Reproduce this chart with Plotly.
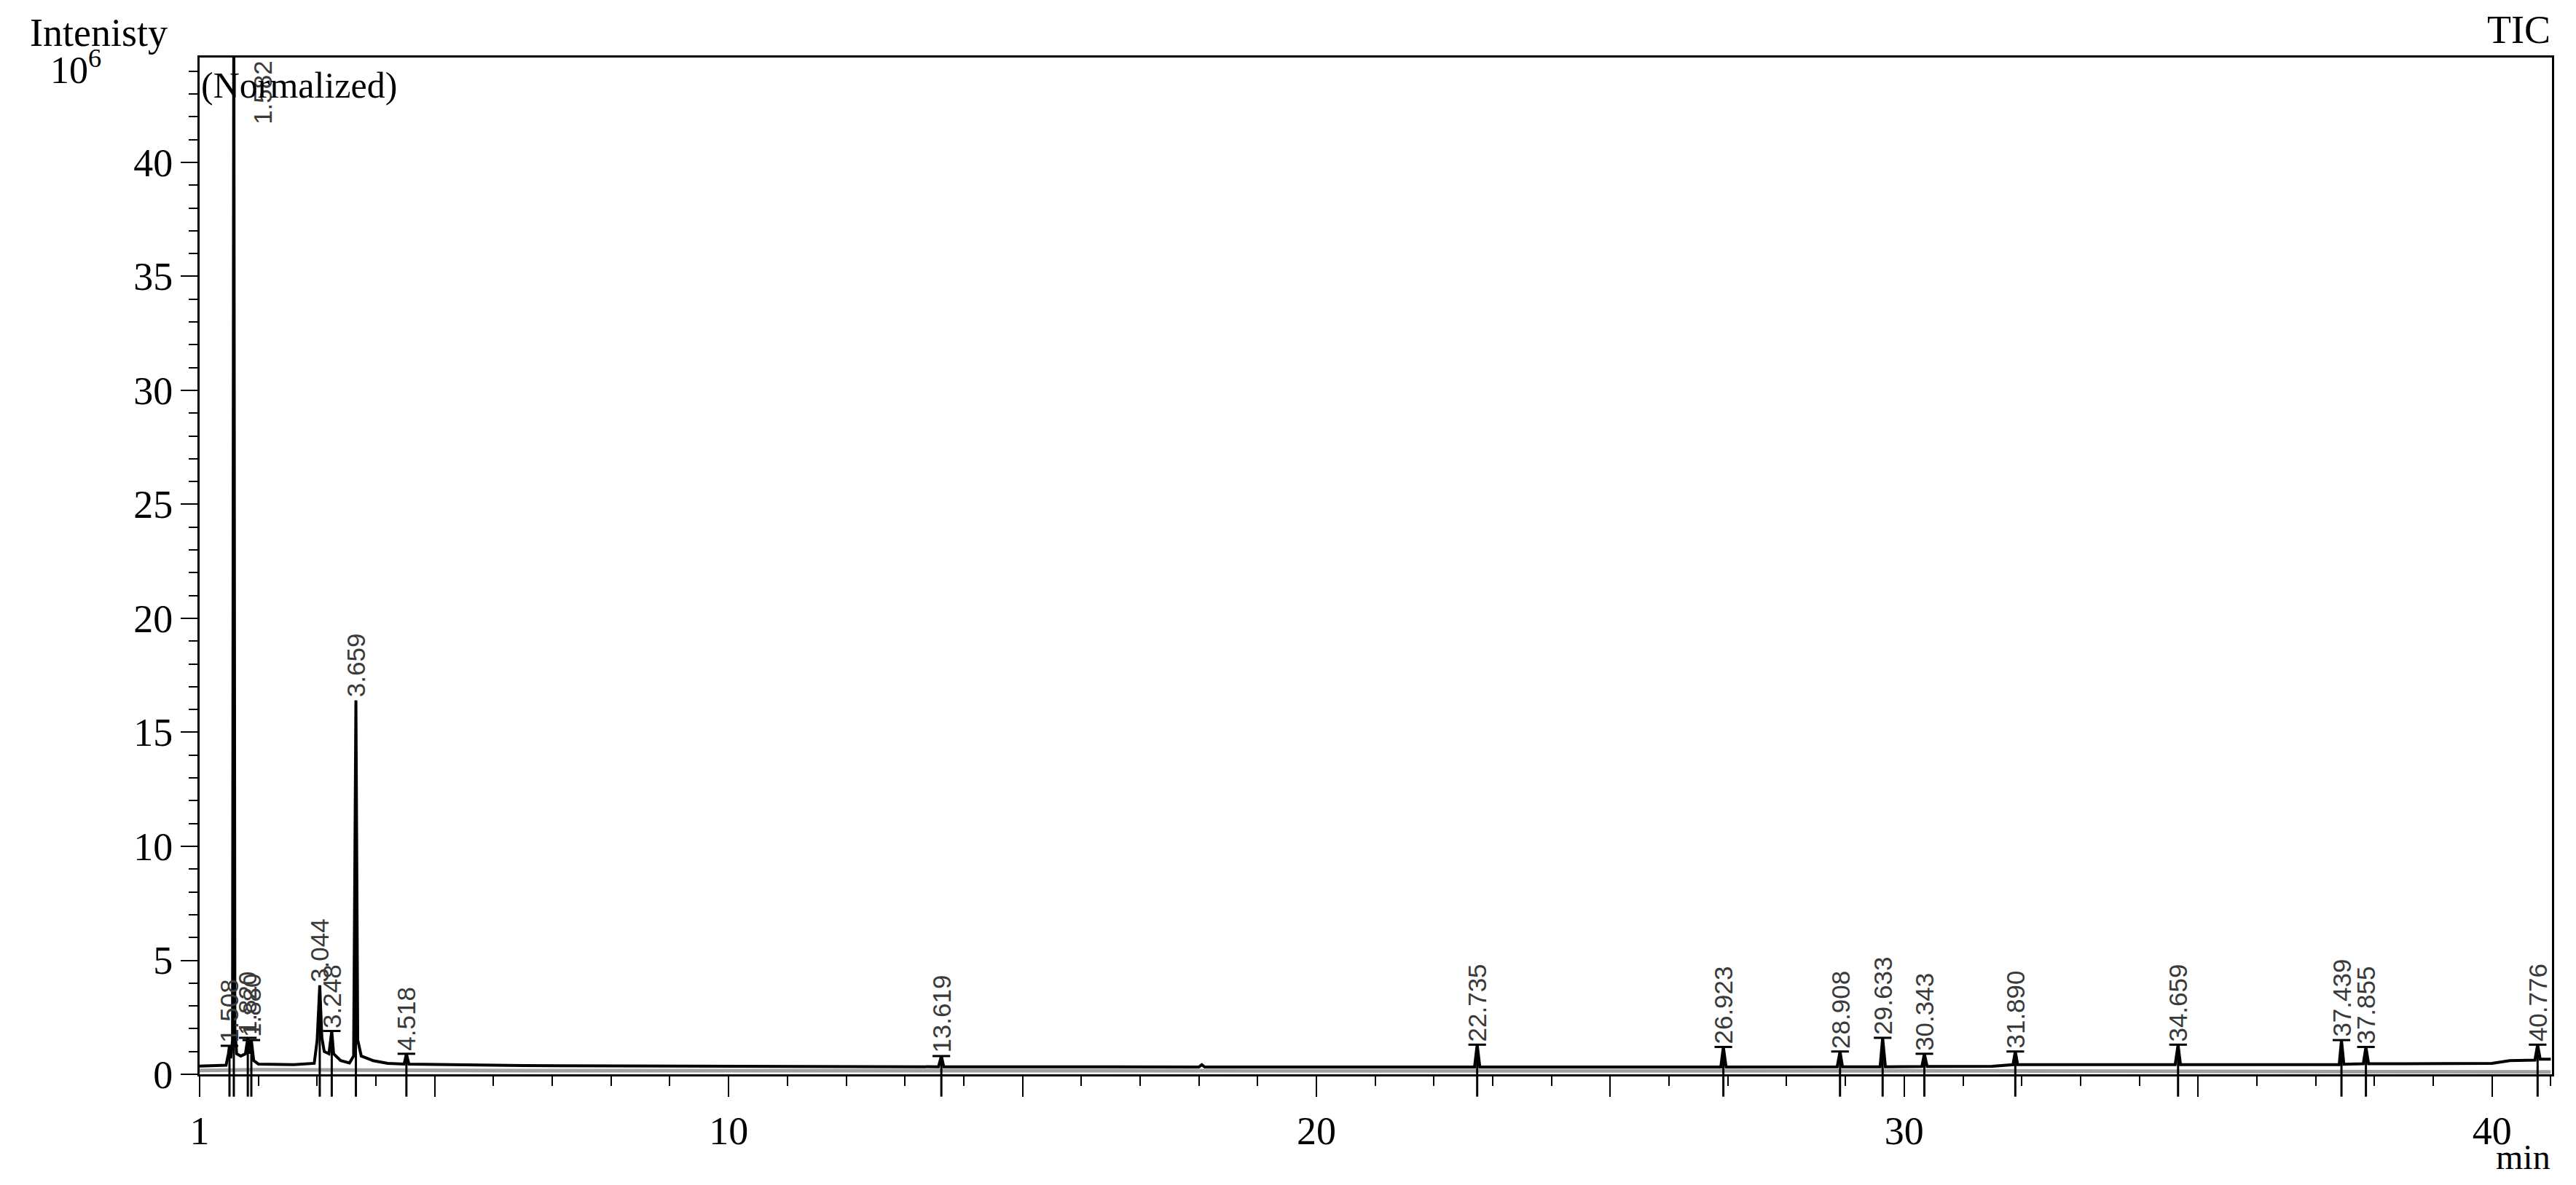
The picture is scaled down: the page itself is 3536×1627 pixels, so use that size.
import plotly.graph_objects as go
import numpy as np

# chromatogram (TIC), retention time in min, intensity in 10^6
rt = [1.00, 1.30, 1.45, 1.49, 1.508, 1.53, 1.56, 1.582, 1.60, 1.63, 1.70, 1.78, 1.82, 1.85, 1.88, 1.92,
      2.00, 2.60, 2.95, 3.00, 3.044, 3.08, 3.12, 3.20, 3.248, 3.28, 3.40, 3.55, 3.62, 3.659, 3.69, 3.75,
      3.95, 4.20, 4.48, 4.518, 4.56, 6.50, 10.0, 13.57, 13.619, 13.66, 18.0, 18.05, 18.1,
      22.69, 22.735, 22.78, 26.88, 26.923, 26.97, 28.86, 28.908, 28.95, 29.59, 29.633, 29.68,
      30.30, 30.343, 30.39, 31.5, 31.85, 31.89, 31.93, 34.61, 34.659, 34.70,
      37.40, 37.439, 37.48, 37.81, 37.855, 37.90, 40.0, 40.3, 40.73, 40.776, 40.82, 41.0]
intensity = [0.36, 0.37, 0.40, 0.9, 1.25, 0.7, 1.5, 48.0, 2.0, 0.9, 0.8, 0.9, 1.6, 0.9, 1.5, 0.6,
             0.45, 0.42, 0.48, 1.5, 3.9, 1.6, 1.0, 0.9, 1.9, 0.9, 0.6, 0.5, 0.8, 16.4, 1.5, 0.8,
             0.6, 0.48, 0.45, 0.9, 0.45, 0.38, 0.34, 0.33, 0.8, 0.33, 0.32, 0.42, 0.32,
             0.32, 1.3, 0.32, 0.32, 1.2, 0.32, 0.33, 1.0, 0.33, 0.33, 1.6, 0.33,
             0.34, 0.9, 0.34, 0.35, 0.42, 1.0, 0.42, 0.42, 1.3, 0.42,
             0.42, 1.5, 0.44, 0.46, 1.2, 0.46, 0.48, 0.60, 0.62, 1.3, 0.66, 0.66]

# second (grey) trace
grey_rt = [1.0, 2.0, 6.5, 31.5, 41.0]
grey_int = [0.17, 0.2, 0.16, 0.15, 0.1]

# labelled peaks
peak_rt = [1.508, 1.582, 1.820, 1.880, 3.044, 3.248, 3.659, 4.518, 13.619, 22.735, 26.923,
           28.908, 29.633, 30.343, 31.890, 34.659, 37.439, 37.855, 40.776]

x_ticks = [1, 5, 10, 15, 20, 25, 30, 35, 40]
x_ticktext = ['1', '', '10', '', '20', '', '30', '', '40']
y_ticks = [0, 5, 10, 15, 20, 25, 30, 35, 40]

Y_MAX = 44.6
serif = 'Liberation Serif'
label_font = dict(family='Liberation Sans', size=35, color='#3a3a3a')

fig = go.Figure()
fig.add_trace(go.Scatter(x=grey_rt, y=grey_int, mode='lines',
                         line=dict(color='#a0a0a0', width=5), hoverinfo='skip'))
fig.add_trace(go.Scatter(x=rt, y=intensity, mode='lines',
                         line=dict(color='black', width=4)))

# peak markers + retention time labels
for p in peak_rt:
    h = float(np.interp(p, rt, intensity))
    fig.add_shape(type='line', xref='x', yref='paper', x0=p, x1=p, y0=-0.022,
                  y1=min(h, Y_MAX) / Y_MAX, line=dict(color='black', width=3))
    if h < 3:
        fig.add_shape(type='line', xref='x', yref='y', x0=p - 0.15, x1=p + 0.15, y0=h, y1=h,
                      line=dict(color='black', width=3))
    if h > Y_MAX:
        fig.add_annotation(x=p, y=Y_MAX - 3, text=f'{p:.3f}', textangle=-90, showarrow=False,
                           xanchor='center', yanchor='bottom', xshift=40, font=label_font)
    else:
        fig.add_annotation(x=p, y=h, text=f'{p:.3f}', textangle=-90, showarrow=False,
                           xanchor='center', yanchor='bottom', yshift=2, font=label_font)

# texts around the frame
fig.add_annotation(xref='paper', yref='paper', x=-0.0728, y=1.0244, text='Intenisty',
                   showarrow=False, xanchor='left', yanchor='middle',
                   font=dict(family=serif, size=54, color='black'))
fig.add_annotation(xref='paper', yref='paper', x=-0.064, y=0.99, text='10<sup>6</sup>',
                   showarrow=False, xanchor='left', yanchor='middle',
                   font=dict(family=serif, size=52, color='black'))
fig.add_annotation(xref='paper', yref='paper', x=0.0, y=0.9728, text='(Normalized)',
                   showarrow=False, xanchor='left', yanchor='middle',
                   font=dict(family=serif, size=50, color='black'))
fig.add_annotation(xref='paper', yref='paper', x=1.0, y=1.027, text='TIC',
                   showarrow=False, xanchor='right', yanchor='middle',
                   font=dict(family=serif, size=54, color='black'))
fig.add_annotation(xref='paper', yref='paper', x=1.0, y=-0.081, text='min',
                   showarrow=False, xanchor='right', yanchor='middle',
                   font=dict(family=serif, size=48, color='black'))

fig.update_xaxes(range=[1, 41.02], tickvals=x_ticks, ticktext=x_ticktext,
                 ticks='outside', ticklen=28, tickwidth=2, tickcolor='black',
                 minor=dict(dtick=1, tick0=0, ticks='outside', ticklen=13, tickwidth=2, tickcolor='black'),
                 showline=True, linewidth=3, linecolor='black', mirror=True,
                 showgrid=False, zeroline=False,
                 tickfont=dict(family=serif, size=54, color='black'))
fig.update_yaxes(range=[0, Y_MAX], tickvals=y_ticks,
                 ticks='outside', ticklen=23, tickwidth=2, tickcolor='black',
                 minor=dict(dtick=1, tick0=0, ticks='outside', ticklen=12, tickwidth=2, tickcolor='black'),
                 showline=True, linewidth=3, linecolor='black', mirror=True,
                 showgrid=False, zeroline=False,
                 tickfont=dict(family=serif, size=54, color='black'))

fig.update_layout(width=3536, height=1627, showlegend=False,
                  paper_bgcolor='white', plot_bgcolor='white',
                  margin=dict(l=266, r=41, t=71, b=160))

fig.write_html("out.html")
